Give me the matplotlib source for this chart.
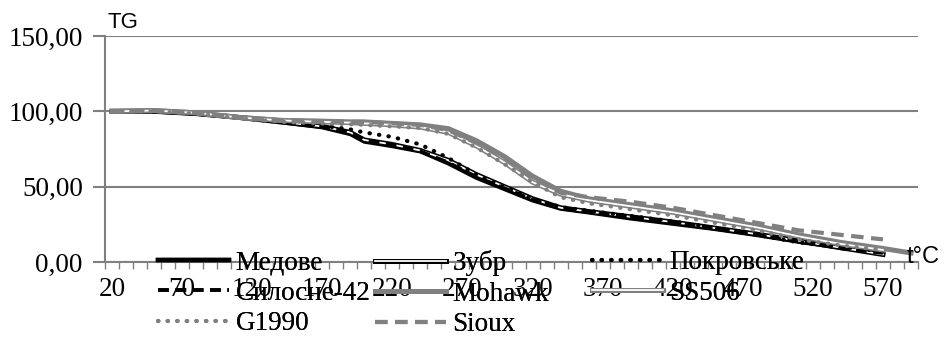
import numpy as np
import matplotlib
matplotlib.use("Agg")
import matplotlib.pyplot as plt
from matplotlib.legend_handler import HandlerTuple
from matplotlib.ticker import FuncFormatter

temps = [20, 50, 80, 110, 140, 170, 190, 200, 220, 240, 260, 280, 300, 320, 340,
         360, 390, 420, 450, 480, 510, 540, 570, 590]
nan = np.nan
medove = [100, 100, 98.5, 96, 93, 89.5, 85, 80, 77, 73.5, 65.5, 56, 48.5, 41, 35.5,
          33, 29, 25.5, 22, 18, 13.5, 9.5, 6, nan]
zubr = [100, 100, 98.5, 96, 93, 90, 86, 81, 78, 74, 67.5, 58, 50, 42, 36,
        33.5, 30, 26.5, 22.5, 18.5, 14, 9.5, 5, nan]
pokrovske = [100, 100, 98.5, 96, 93, 90.5, 88, 86, 83, 78, 69, 58, 49.5, 42, 36.5,
             34, 30.5, 27, 22.5, 18, 13, 10, 7, nan]
sylosne = [100, 100, 98.5, 96, 93, 90, 86, 81, 78, 73.5, 66, 56.5, 49, 41.5, 36,
           33.5, 30, 26.5, 22.5, 18.5, 14, 9, 6, nan]
mohawk = [100, 100.5, 99, 96, 94, 93.5, 93, 93, 92, 91, 88.5, 80.5, 70, 57, 47,
          42, 38, 34, 29, 24, 18, 13, 9, 6]
ss506 = [100, 100.5, 99, 96, 94, 93, 92.5, 92, 91, 89.5, 86, 77, 66, 53, 45,
         41, 37, 33, 28, 23, 17, 12, 8, nan]
g1990 = [100, 100, 98.5, 95.5, 93, 92, 91.5, 91, 90, 89, 85, 76, 65, 53, 43,
         39, 35, 31, 26, 21, 15, 11, 8, nan]
sioux = [100, 100.5, 99, 96, 94, 93.5, 93, 93, 92, 91, 87.5, 79, 69, 56, 46,
         43, 40, 36, 31, 26, 21, 18, 15, nan]

black = "black"
gray = "#808080"
serif = "Liberation Serif"
fsize = 19.5

fig = plt.figure(figsize=(9.44, 3.64), dpi=100)
ax = fig.add_axes([105 / 944, 1 - 262 / 364, 813 / 944, 226 / 364])

l_med, = ax.plot(temps, medove, color=black, lw=3.2)
l_zb1, = ax.plot(temps, zubr, color=black, lw=3.6)
l_zb2, = ax.plot(temps, zubr, color="white", lw=1.3)
l_pok, = ax.plot(temps, pokrovske, color=black, lw=3, linestyle=(0, (0.1, 2.2)),
                 dash_capstyle="round")
l_syl, = ax.plot(temps, sylosne, color=black, lw=2.6, linestyle=(0, (3, 1.8)))
l_moh, = ax.plot(temps, mohawk, color=gray, lw=3.6)
l_ss1, = ax.plot(temps, ss506, color=gray, lw=3.6)
l_ss2, = ax.plot(temps, ss506, color="white", lw=1.3)
l_g19, = ax.plot(temps, g1990, color=gray, lw=3, linestyle=(0, (0.1, 2.2)),
                 dash_capstyle="round")
l_sio, = ax.plot(temps, sioux, color=gray, lw=3, linestyle=(0, (3, 1.8)))

ax.set_xlim(15, 595)
ax.set_ylim(0, 150)
ax.set_yticks([0, 50, 100, 150])
ax.yaxis.set_major_formatter(FuncFormatter(lambda v, p: f"{v:.2f}".replace(".", ",")))
ax.grid(axis="y", color=gray, lw=1.5)
ax.set_axisbelow(True)

ax.set_xticks(np.arange(15, 600, 10))
ax.set_xticklabels([])
ax.set_xticks(np.arange(20, 580, 50), minor=True)
ax.set_xticklabels([str(t) for t in range(20, 580, 50)], minor=True)
ax.tick_params(axis="x", which="major", length=5, color=gray, width=1)
ax.tick_params(axis="x", which="minor", length=0, pad=11)
ax.tick_params(axis="y", length=9, color=gray, width=1.5, pad=7)
for lab in ax.get_xticklabels(minor=True) + ax.get_yticklabels():
    lab.set_fontfamily(serif)
    lab.set_fontsize(fsize)

for s in ["top", "right"]:
    ax.spines[s].set_visible(False)
for s in ["left", "bottom"]:
    ax.spines[s].set_color(gray)
    ax.spines[s].set_linewidth(1.5)

fig.text(107 / 944, 1 - 12 / 364, "TG", family="Liberation Sans", fontsize=16, va="top")
fig.text(907 / 944, 1 - 257 / 364, "t°C", family="Liberation Sans", fontsize=17, va="center")

columns = [
    [(l_med, "Медове"), (l_syl, "Силосне-42"), (l_g19, "G1990")],
    [((l_zb1, l_zb2), "Зубр"), (l_moh, "Mohawk"), (l_sio, "Sioux")],
    [(l_pok, "Покровське"), ((l_ss1, l_ss2), "SS506")],
]
col_x = [153, 370, 587]
for cx, items in zip(col_x, columns):
    leg = fig.legend([h for h, _ in items], [t for _, t in items],
                     loc="upper left", bbox_to_anchor=(cx / 944, 1 - 245 / 364),
                     frameon=False, handlelength=2.6, handletextpad=0.25,
                     labelspacing=0.2, borderaxespad=0, borderpad=0.2,
                     prop={"family": serif, "size": fsize},
                     handler_map={tuple: HandlerTuple(ndivide=1, pad=0)})
    fig.add_artist(leg)

fig.savefig("out.png", dpi=100)
